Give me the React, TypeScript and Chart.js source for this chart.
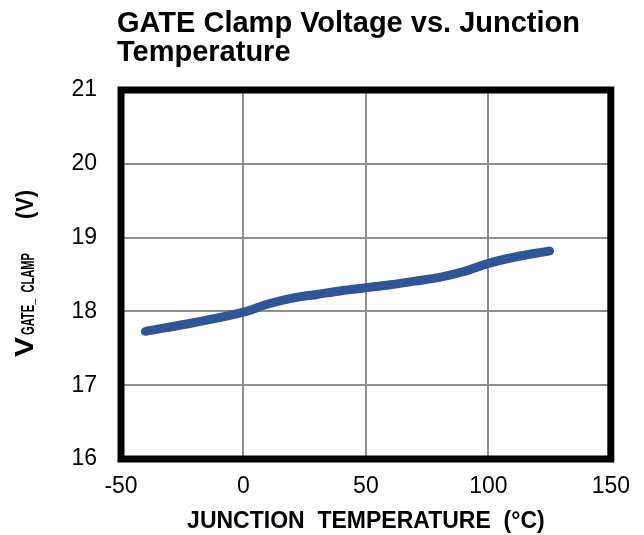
import { useEffect, useRef } from "react";
import { Chart, registerables } from "chart.js";
Chart.register(...registerables);

const temperatures = [-40, -20, 0, 10, 20, 30, 40, 50, 60, 70, 80, 90, 100, 110, 125];
const clampVoltages = [17.73, 17.85, 17.99, 18.1, 18.18, 18.23, 18.28, 18.32, 18.36, 18.41, 18.46, 18.54, 18.65, 18.73, 18.82];
const xTicks = [-50, 0, 50, 100, 150];
const yTicks = [16, 17, 18, 19, 20, 21];
const titleLines = ["GATE Clamp Voltage vs. Junction", "Temperature"];
const xTitle = "JUNCTION  TEMPERATURE  (°C)";
const yTitleMain = "V";
const yTitleSub = "GATE_  CLAMP";
const yTitleUnit = "(V)";

const BOLD = "'Liberation Sans', Arial, sans-serif";
const TICKFONT = "'Liberation Sans', Arial, sans-serif";

const decor = {
  id: "decor",
  afterDraw(chart: any) {
    const ctx = chart.ctx as CanvasRenderingContext2D;
    const a = chart.chartArea;
    ctx.save();
    ctx.strokeStyle = "#000";
    ctx.lineWidth = 7;
    ctx.lineJoin = "miter";
    ctx.strokeRect(a.left, a.top, a.right - a.left, a.bottom - a.top);

    ctx.fillStyle = "#000";
    ctx.textBaseline = "alphabetic";
    ctx.textAlign = "left";
    ctx.font = `bold 29px ${BOLD}`;
    ctx.fillText(titleLines[0], 117, 32);
    ctx.fillText(titleLines[1], 117, 61);

    ctx.font = `bold 23px ${BOLD}`;
    ctx.textAlign = "center";
    ctx.fillText(xTitle, (a.left + a.right) / 2, 528);

    // rotated y title with subscript
    ctx.translate(33, 357);
    ctx.rotate(-Math.PI / 2);
    ctx.textAlign = "left";
    ctx.font = `bold 26px ${BOLD}`;
    let w = ctx.measureText(yTitleMain).width;
    ctx.save();
    ctx.scale(20 / w, 1);
    ctx.fillText(yTitleMain, 0, 0);
    ctx.restore();

    ctx.font = `bold 19px ${BOLD}`;
    w = ctx.measureText(yTitleSub).width;
    ctx.save();
    ctx.translate(22, 1);
    ctx.scale(82 / w, 1);
    ctx.fillText(yTitleSub, 0, 0);
    ctx.restore();

    ctx.font = `bold 24px ${BOLD}`;
    w = ctx.measureText(yTitleUnit).width;
    ctx.save();
    ctx.translate(138, 0);
    ctx.scale(29 / w, 1);
    ctx.fillText(yTitleUnit, 0, 0);
    ctx.restore();

    ctx.restore();
  },
};

export default function App() {
  const ref = useRef<HTMLCanvasElement>(null);
  useEffect(() => {
    if (!ref.current) return;
    const chart = new Chart(ref.current, {
      type: "line",
      data: {
        datasets: [
          {
            data: temperatures.map((t, i) => ({ x: t, y: clampVoltages[i] })),
            borderColor: "#2F5597",
            borderWidth: 9,
            borderCapStyle: "round",
            borderJoinStyle: "round",
            pointRadius: 0,
            cubicInterpolationMode: "monotone",
            fill: false,
          },
        ],
      },
      options: {
        animation: false,
        responsive: false,
        events: [],
        layout: { padding: { top: 90, right: 33, left: 0, bottom: 0 } },
        plugins: { legend: { display: false }, tooltip: { enabled: false }, title: { display: false } },
        scales: {
          x: {
            type: "linear",
            min: -50,
            max: 150,
            afterBuildTicks: (s: any) => {
              s.ticks = xTicks.map((v) => ({ value: v }));
            },
            afterFit: (s: any) => {
              s.height = 76;
            },
            grid: { color: "#8f8f8f", lineWidth: 2, drawTicks: false },
            border: { display: false },
            ticks: { color: "#000", padding: 14, font: { family: TICKFONT, size: 23 }, maxRotation: 0 },
          },
          y: {
            type: "linear",
            min: 16,
            max: 21,
            afterBuildTicks: (s: any) => {
              s.ticks = yTicks.map((v) => ({ value: v }));
            },
            afterFit: (s: any) => {
              s.width = 121;
            },
            grid: { color: "#8f8f8f", lineWidth: 2, drawTicks: false },
            border: { display: false },
            ticks: { color: "#000", padding: 24, font: { family: TICKFONT, size: 23 } },
          },
        },
      },
      plugins: [decor],
    } as any);
    return () => chart.destroy();
  }, []);
  return (
    <div style={{ position: "absolute", left: 0, top: 0, width: 644, height: 535, background: "#fff" }}>
      <canvas ref={ref} width={644} height={535} style={{ width: 644, height: 535, display: "block" }} />
    </div>
  );
}
